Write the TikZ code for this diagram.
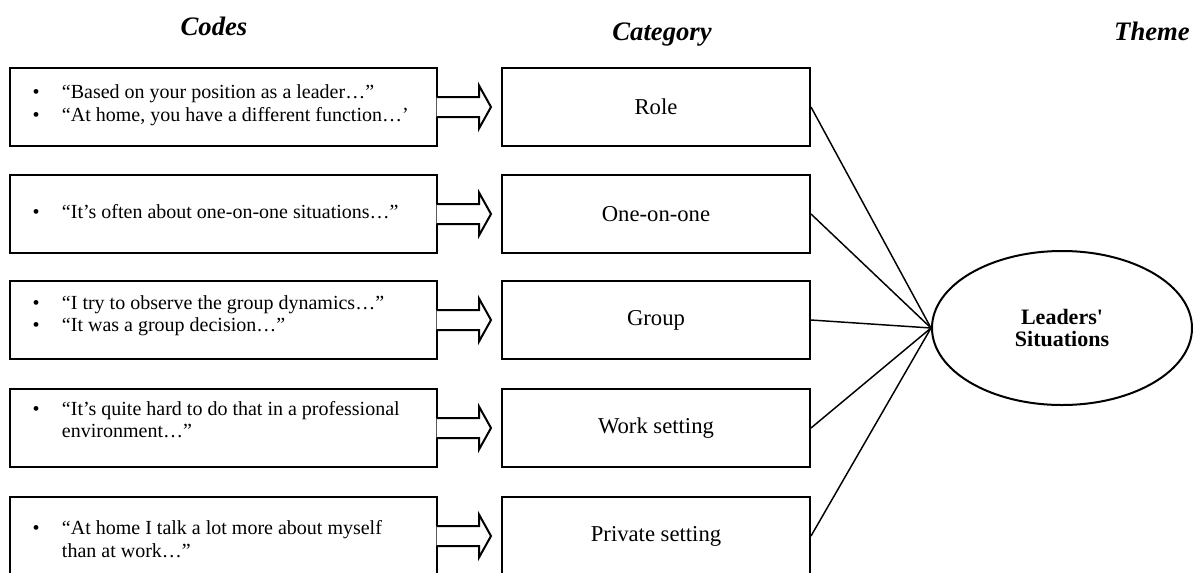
\documentclass[tikz,border=0pt]{standalone}
\usepackage{fontspec}
\setmainfont{Liberation Serif}
\usetikzlibrary{shapes.geometric}

\tikzset{every picture/.style={line width=0.75pt}}
\tikzset{
  codebox/.style={draw, line width=1.5pt, minimum width=320.25pt, minimum height=58.5pt, inner sep=0pt, font=\fontsize{15}{17}\selectfont},
  catbox/.style={draw, line width=1.5pt, minimum width=231pt, minimum height=58.5pt, font=\fontsize{17}{19}\selectfont},
  colhead/.style={anchor=base, font=\fontsize{20}{22}\selectfont\bfseries\itshape},
  blockarrow/.style={draw, line width=1.5pt, fill=white, line join=miter},
  link/.style={line width=1.1pt}
}
% #1 = lift of the text inside its box
\newcommand{\quotelist}[2]{\raisebox{#1}[\height][\depth]{\begin{tabular}{@{\hspace{17pt}}p{22pt}@{}p{281.25pt}@{}}#2\end{tabular}}}

\begin{document}
\begin{tikzpicture}[x=0.75pt,y=0.75pt,yscale=-1,xscale=1]
\useasboundingbox (0,0) rectangle (1193,572);
\clip (0,0) rectangle (1193,572);

% Column headings
\node[colhead] (hcodes) at (214,35) {Codes};
\node[colhead] (hcat) at (662,40) {Category};
\node[colhead] (htheme) at (1152,40) {Theme};

% Codes
\node[codebox] (c1) at (223.5,107) {\quotelist{1pt}{\textbullet & “Based on your position as a leader…” \\ \textbullet & “At home, you have a different function…’}};
\node[codebox] (c2) at (223.5,214) {\quotelist{0pt}{\textbullet & “It’s often about one-on-one situations…”}};
\node[codebox] (c3) at (223.5,320) {\quotelist{3pt}{\textbullet & “I try to observe the group dynamics…” \\ \textbullet & “It was a group decision…”}};
\node[codebox] (c4) at (223.5,428) {\quotelist{4.5pt}{\textbullet & “It’s quite hard to do that in a professional\newline environment…”}};
\node[codebox] (c5) at (223.5,536) {\quotelist{-4pt}{\textbullet & “At home I talk a lot more about myself\newline than at work…”}};

% Categories
\node[catbox] (k1) at (656,107) {Role};
\node[catbox] (k2) at (656,214) {One-on-one};
\node[catbox] (k3) at (656,320) {Group};
\node[catbox] (k4) at (656,428) {Work setting};
\node[catbox] (k5) at (656,536) {Private setting};

% Theme
\node[draw, ellipse, line width=1.5pt, minimum width=195pt, minimum height=115.5pt, align=center, font=\fontsize{16.5}{16}\selectfont\bfseries] (theme) at (1062,328) {Leaders\textquotesingle\\Situations};

% block arrows and links
\foreach \i in {1,...,5}{
  \draw[blockarrow] ([shift={(-1.5,-10)}]c\i.east) -- ++(42.5,0) -- ++(0,-11.5) -- ++(12,21.5) -- ++(-12,21.5) -- ++(0,-11.5) -- ++(-42.5,0);
  \draw[link] (k\i.east) -- (theme.west);
}

\end{tikzpicture}
\end{document}
